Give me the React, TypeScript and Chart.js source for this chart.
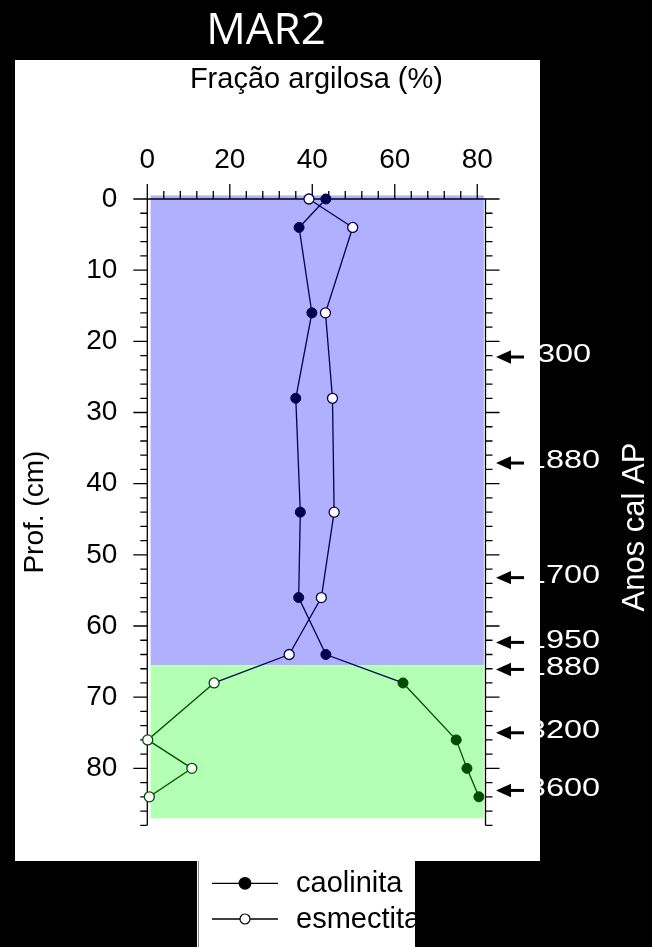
import React, { useEffect, useRef } from "react";
import { Chart, registerables } from "chart.js";

Chart.register(...registerables);

const FONT = "'Liberation Sans', Arial, Helvetica, sans-serif";

// Depth (cm) of each sample
const depths = [0, 4, 16, 28, 44, 56, 64, 68, 76, 80, 84];
// Clay fraction (%)
const caolinita = [43.3, 36.8, 39.9, 36.0, 37.1, 36.7, 43.3, 62.0, 74.9, 77.5, 80.4];
const esmectita = [39.2, 49.8, 43.2, 44.9, 45.3, 42.2, 34.4, 16.2, 0.1, 10.8, 0.5];

// Age markers (depth, label)
const ageDepths = [22.2, 37.1, 53.2, 62.3, 66.1, 75.0, 83.1];
const ageLabels = ["300", "1880", "1700", "1950", "1880", "3200", "3600"];

// Zones
const zoneTop = -0.5;
const zoneBoundary = 65.5;
const zoneBottom = 87;
const zoneLeft = 0.8;
const zoneRight = 81.6;

const NAVY = "#000050";
const GREEN = "#004d00";

const inLower = (d: number | undefined) => d !== undefined && d > zoneBoundary;

const decorPlugin = {
  id: "decor",
  beforeDraw(chart: any) {
    const ctx = chart.ctx as CanvasRenderingContext2D;
    ctx.save();
    ctx.fillStyle = "#000";
    ctx.fillRect(0, 0, chart.width, chart.height);
    ctx.fillStyle = "#fff";
    ctx.fillRect(15, 60, 525, 801);
    ctx.fillRect(197, 860, 218, 87);
    ctx.strokeStyle = "#8a8a8a";
    ctx.lineWidth = 1;
    ctx.beginPath();
    ctx.moveTo(198.5, 861);
    ctx.lineTo(198.5, 947);
    ctx.stroke();
    ctx.fillStyle = "#fff";
    ctx.font = "44px 'Open Sans', 'Noto Sans', sans-serif";
    ctx.textAlign = "center";
    ctx.textBaseline = "alphabetic";
    ctx.fillText("MAR2", 266, 43.5);
    ctx.restore();
  },
  beforeDatasetsDraw(chart: any) {
    const ctx = chart.ctx as CanvasRenderingContext2D;
    const x = chart.scales.x;
    const y = chart.scales.y;
    ctx.save();
    const xl = x.getPixelForValue(zoneLeft);
    const xr = x.getPixelForValue(zoneRight);
    const y0 = y.getPixelForValue(zoneTop);
    const y1 = y.getPixelForValue(zoneBoundary);
    const y2 = y.getPixelForValue(zoneBottom);
    ctx.fillStyle = "#b0b0ff";
    ctx.fillRect(xl, y0, xr - xl, y1 - y0);
    ctx.fillStyle = "#b3ffb3";
    ctx.fillRect(xl, y1, xr - xl, y2 - y1);

    const L = x.getPixelForValue(0);
    const R = x.right;
    const T = y.top;
    const B = y.bottom;
    ctx.strokeStyle = "#000";
    ctx.lineWidth = 1.3;
    ctx.beginPath();
    ctx.moveTo(L, T);
    ctx.lineTo(R, T);
    ctx.moveTo(L, T);
    ctx.lineTo(L, B);
    ctx.moveTo(R, T);
    ctx.lineTo(R, B);
    for (let v = 0; v <= x.max; v += 4) {
      const px = x.getPixelForValue(v);
      const len = v % 20 === 0 ? 15 : 8;
      ctx.moveTo(px, T);
      ctx.lineTo(px, T - len);
    }
    for (let d = 0; d <= y.max; d += 2) {
      const py = y.getPixelForValue(d);
      const len = d % 10 === 0 ? 14 : 7;
      ctx.moveTo(L, py);
      ctx.lineTo(L - len, py);
      ctx.moveTo(R, py);
      ctx.lineTo(R + len, py);
    }
    ctx.stroke();
    ctx.restore();
  },
  afterDraw(chart: any) {
    const ctx = chart.ctx as CanvasRenderingContext2D;
    const y = chart.scales.y;
    ctx.save();
    // arrows + age labels
    ageDepths.forEach((d, i) => {
      const py = y.getPixelForValue(d);
      ctx.strokeStyle = "#000";
      ctx.lineWidth = 3;
      ctx.beginPath();
      ctx.moveTo(506, py);
      ctx.lineTo(524, py);
      ctx.stroke();
      ctx.fillStyle = "#000";
      ctx.beginPath();
      ctx.moveTo(496, py);
      ctx.lineTo(511, py - 6.7);
      ctx.lineTo(511, py + 6.7);
      ctx.closePath();
      ctx.fill();

      ctx.save();
      ctx.translate(564, py - 2);
      ctx.scale(1.25, 1);
      ctx.fillStyle = "#fff";
      ctx.font = `26px ${FONT}`;
      ctx.textAlign = "center";
      ctx.textBaseline = "middle";
      ctx.fillText(ageLabels[i], 0, 0);
      ctx.restore();
    });
    // re-cover the part of the labels that lies over the white panel
    ctx.fillStyle = "#fff";
    ctx.fillRect(527, 300, 13, 520);
    // right title
    ctx.save();
    ctx.translate(635, 527);
    ctx.rotate(-Math.PI / 2);
    ctx.fillStyle = "#fff";
    ctx.font = `31px ${FONT}`;
    ctx.textAlign = "center";
    ctx.textBaseline = "middle";
    ctx.fillText("Anos cal AP", 0, 0);
    ctx.restore();

    // legend
    const items = [
      { label: "caolinita", y: 883.3, filled: true },
      { label: "esmectita", y: 919, filled: false },
    ];
    items.forEach((it) => {
      ctx.strokeStyle = "#000";
      ctx.lineWidth = 1.3;
      ctx.beginPath();
      ctx.moveTo(212, it.y);
      ctx.lineTo(278, it.y);
      ctx.stroke();
      ctx.beginPath();
      ctx.arc(245, it.y, it.filled ? 5.8 : 5, 0, Math.PI * 2);
      ctx.fillStyle = it.filled ? "#000" : "#fff";
      ctx.fill();
      ctx.lineWidth = 1.2;
      ctx.stroke();
      ctx.fillStyle = "#000";
      ctx.font = `29px ${FONT}`;
      ctx.textAlign = "left";
      ctx.textBaseline = "alphabetic";
      ctx.fillText(it.label, 296, it.y + 9);
    });
    ctx.restore();
  },
};

export default function App() {
  const ref = useRef<HTMLCanvasElement | null>(null);

  useEffect(() => {
    if (!ref.current) return;
    Chart.defaults.font.family = FONT;
    const pointColor = (c: any) => (inLower(c.raw?.y) ? GREEN : NAVY);
    const segColor = (c: any) => (inLower(c.p0?.parsed?.y) ? GREEN : NAVY);
    const chart = new Chart(ref.current, {
      type: "scatter",
      data: {
        datasets: [
          {
            label: "caolinita",
            data: depths.map((d, i) => ({ x: caolinita[i], y: d })),
            showLine: true,
            borderColor: NAVY,
            borderWidth: 1.3,
            pointRadius: 5,
            pointBorderWidth: 1,
            pointBackgroundColor: pointColor,
            pointBorderColor: pointColor,
            segment: { borderColor: segColor },
            clip: false,
          } as any,
          {
            label: "esmectita",
            data: depths.map((d, i) => ({ x: esmectita[i], y: d })),
            showLine: true,
            borderColor: NAVY,
            borderWidth: 1.3,
            pointRadius: 5,
            pointBorderWidth: 1.3,
            pointBackgroundColor: "#fff",
            pointBorderColor: pointColor,
            segment: { borderColor: segColor },
            clip: false,
          } as any,
        ],
      },
      options: {
        animation: false,
        responsive: false,
        devicePixelRatio: 1,
        layout: { padding: { top: 60, left: 0, right: 166.5, bottom: 121.7 } },
        plugins: { legend: { display: false }, tooltip: { enabled: false } },
        scales: {
          x: {
            type: "linear",
            position: "top",
            min: 0,
            max: 82,
            grid: { display: false, drawTicks: false },
            border: { display: false },
            ticks: {
              stepSize: 20,
              includeBounds: false,
              autoSkip: false,
              maxRotation: 0,
              color: "#000",
              font: { family: FONT, size: 28, lineHeight: 1 },
              padding: 25,
            },
            title: {
              display: true,
              text: "Fração argilosa (%)",
              color: "#000",
              font: { family: FONT, size: 29, lineHeight: 1.2 },
              padding: { top: 3, bottom: 0 },
            },
            afterFit: (s: any) => {
              s.height = 139;
            },
          },
          y: {
            type: "linear",
            position: "left",
            reverse: true,
            min: 0,
            max: 88,
            grid: { display: false, drawTicks: false },
            border: { display: false },
            ticks: {
              stepSize: 10,
              includeBounds: false,
              autoSkip: false,
              color: "#000",
              font: { family: FONT, size: 28, lineHeight: 1 },
              padding: 30,
            },
            title: {
              display: true,
              text: "Prof. (cm)",
              color: "#000",
              font: { family: FONT, size: 28, lineHeight: 1.2 },
              padding: { top: 18, bottom: 0 },
            },
            afterFit: (s: any) => {
              s.width = 147.3;
            },
          },
        },
      } as any,
      plugins: [decorPlugin],
    });
    return () => chart.destroy();
  }, []);

  return (
    <div style={{ position: "absolute", left: 0, top: 0, width: 652, height: 947, background: "#000" }}>
      <canvas ref={ref} width={652} height={947} style={{ display: "block", width: 652, height: 947 }} />
    </div>
  );
}
